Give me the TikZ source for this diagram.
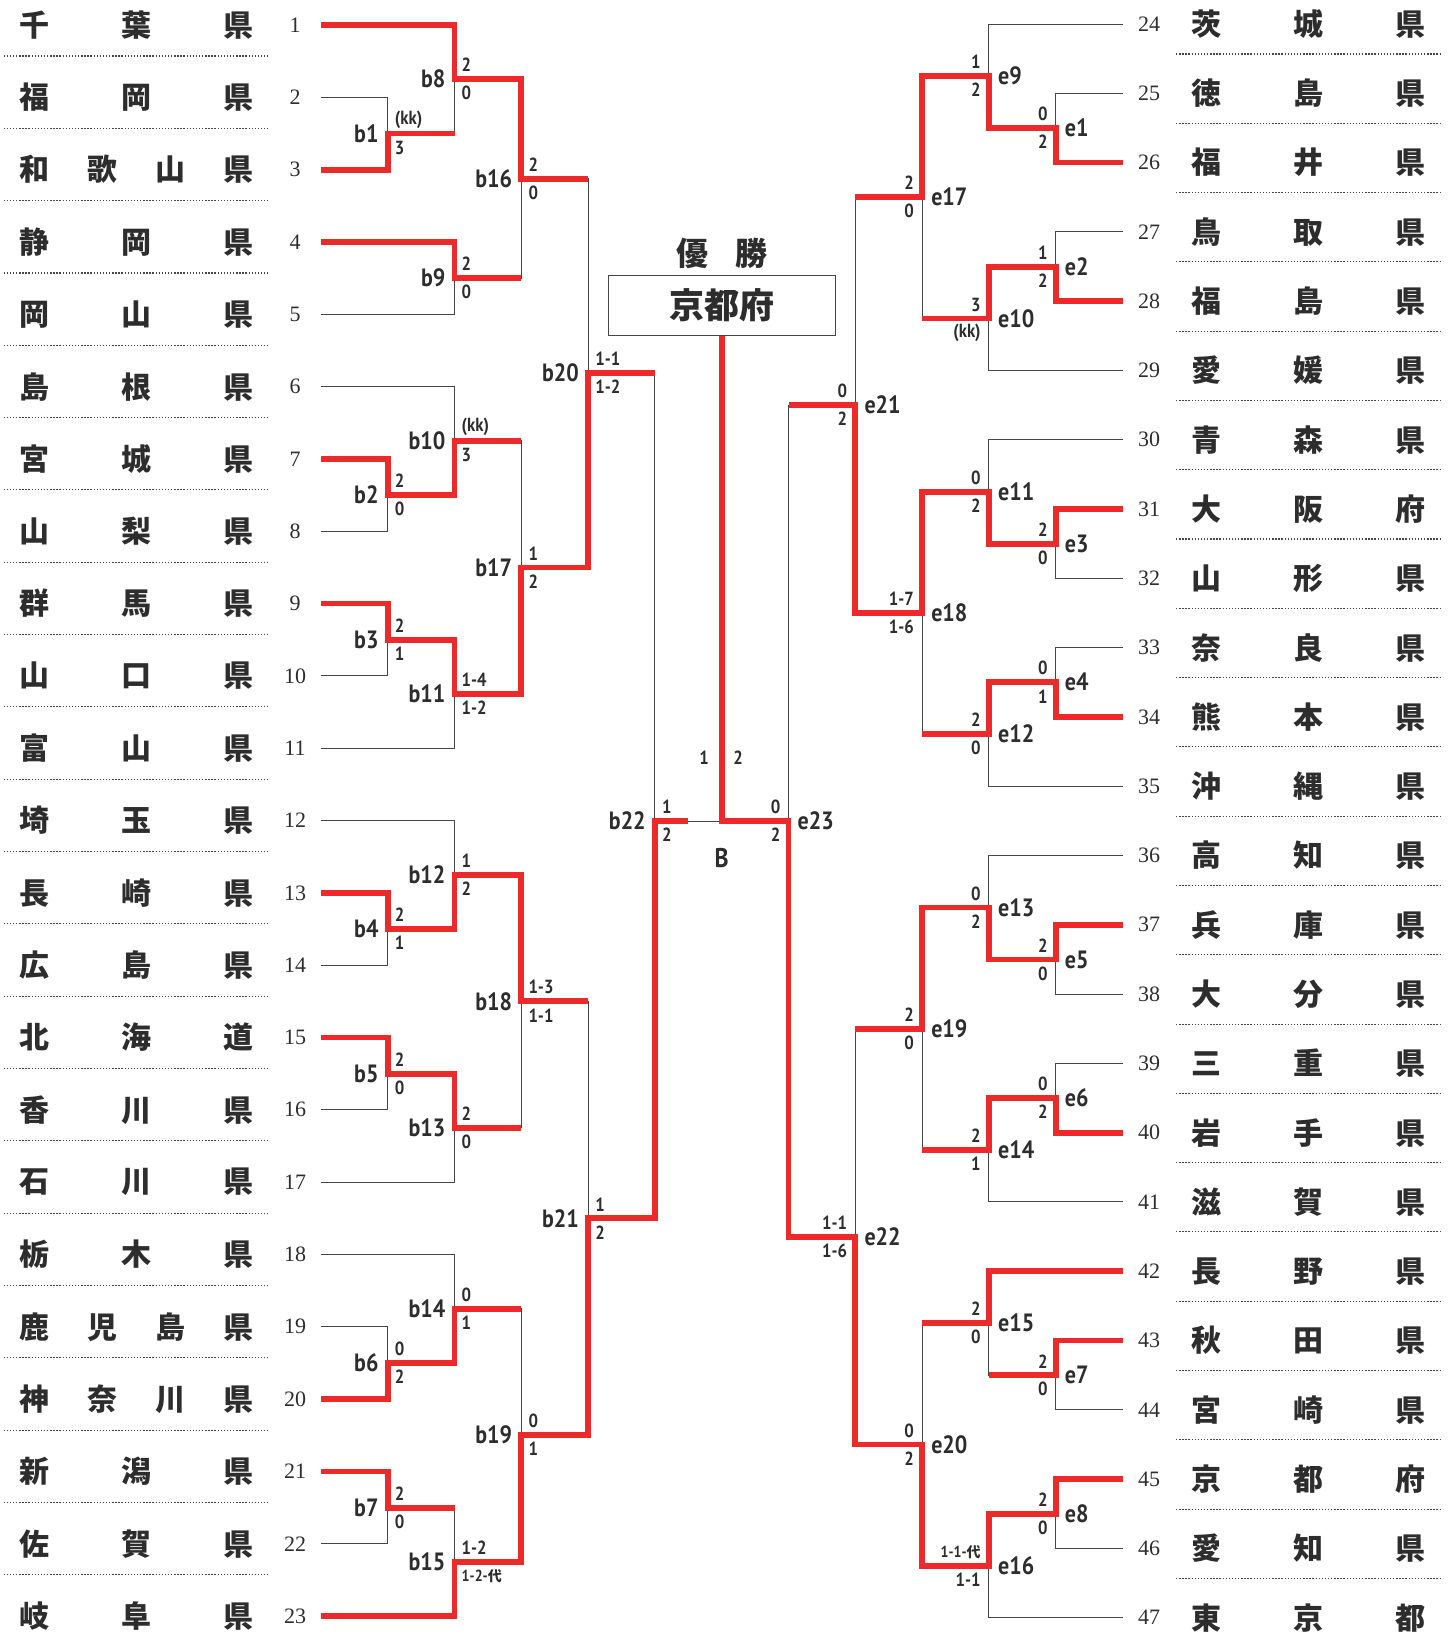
\documentclass[tikz,border=0pt]{standalone}
\usepackage{fontspec}
\setmainfont{Liberation Serif}
\newfontfamily\jpfont{Noto Sans CJK JP}
\newfontfamily\labfont{PT Sans}[FakeStretch=0.88]
\usepackage{tikz}

\definecolor{redline}{RGB}{237,41,41}
\definecolor{ink}{RGB}{45,45,45}
\definecolor{wire}{RGB}{70,70,70}

\begin{document}
\begin{tikzpicture}[x=1pt,y=-1pt,
  bracket/.style={draw=wire,line width=1pt},
  winner/.style={draw=redline,line width=5.8pt},
  sep/.style={draw=wire,line width=1.1pt,dash pattern=on 1.4pt off 1.7pt},
  pref/.style={inner sep=0pt,text=ink,font=\jpfont\bfseries\fontsize{30}{30}\selectfont},
  num/.style={inner sep=0pt,text=ink,font=\fontsize{22}{22}\selectfont},
  match/.style={inner sep=0pt,text=ink,font=\labfont\bfseries\fontsize{25}{25}\selectfont},
  score/.style={inner sep=0pt,text=ink,font=\labfont\bfseries\fontsize{19}{19}\selectfont}]
  \useasboundingbox (0,0) rectangle (1448,1638);

  \foreach \n [count=\i] in {千\hfill 葉\hfill 県,福\hfill 岡\hfill 県,和\hfill 歌\hfill 山\hfill 県,
      静\hfill 岡\hfill 県,岡\hfill 山\hfill 県,島\hfill 根\hfill 県,宮\hfill 城\hfill 県,
      山\hfill 梨\hfill 県,群\hfill 馬\hfill 県,山\hfill 口\hfill 県,富\hfill 山\hfill 県,
      埼\hfill 玉\hfill 県,長\hfill 崎\hfill 県,広\hfill 島\hfill 県,北\hfill 海\hfill 道,
      香\hfill 川\hfill 県,石\hfill 川\hfill 県,栃\hfill 木\hfill 県,鹿\hfill 児\hfill 島\hfill 県,
      神\hfill 奈\hfill 川\hfill 県,新\hfill 潟\hfill 県,佐\hfill 賀\hfill 県,岐\hfill 阜\hfill 県}
  {
    \coordinate (t\i) at (320.9,{25+(\i-1)*72.32});
    \node[pref] (n\i) at (136.3,{25+(\i-1)*72.32}) {\makebox[234pt]{\n}};
    \node[num] (k\i) at (295,{25+(\i-1)*72.32}) {\i};
  }
  \foreach \n [count=\i from 24] in {茨\hfill 城\hfill 県,徳\hfill 島\hfill 県,福\hfill 井\hfill 県,
      鳥\hfill 取\hfill 県,福\hfill 島\hfill 県,愛\hfill 媛\hfill 県,青\hfill 森\hfill 県,
      大\hfill 阪\hfill 府,山\hfill 形\hfill 県,奈\hfill 良\hfill 県,熊\hfill 本\hfill 県,
      沖\hfill 縄\hfill 県,高\hfill 知\hfill 県,兵\hfill 庫\hfill 県,大\hfill 分\hfill 県,
      三\hfill 重\hfill 県,岩\hfill 手\hfill 県,滋\hfill 賀\hfill 県,長\hfill 野\hfill 県,
      秋\hfill 田\hfill 県,宮\hfill 崎\hfill 県,京\hfill 都\hfill 府,愛\hfill 知\hfill 県,
      東\hfill 京\hfill 都}
  {
    \coordinate (t\i) at (1122.5,{24+(\i-24)*69.29});
    \node[pref] (n\i) at (1308.5,{24+(\i-24)*69.29}) {\makebox[234pt]{\n}};
    \node[num] (k\i) at (1149,{24+(\i-24)*69.29}) {\i};
  }
  \foreach \i in {1,...,22}
    \draw[sep] (3.6,{56+(\i-1)*72.32}) -- (268,{56+(\i-1)*72.32});
  \foreach \i in {24,...,46}
    \draw[sep] (1176,{54+(\i-24)*69.29}) -- (1440,{54+(\i-24)*69.29});

  \coordinate (b1) at (387.7,133.5);
  \coordinate (b2) at (387.7,495.1);
  \coordinate (b3) at (387.7,639.8);
  \coordinate (b4) at (387.7,929.0);
  \coordinate (b5) at (387.7,1073.7);
  \coordinate (b6) at (387.7,1362.9);
  \coordinate (b7) at (387.7,1507.6);
  \coordinate (b8) at (454.5,79.2);
  \coordinate (b9) at (454.5,278.2);
  \coordinate (b10) at (454.5,440.8);
  \coordinate (b11) at (454.5,694.0);
  \coordinate (b12) at (454.5,874.8);
  \coordinate (b13) at (454.5,1127.9);
  \coordinate (b14) at (454.5,1308.7);
  \coordinate (b15) at (454.5,1561.8);
  \coordinate (b16) at (521.3,178.7);
  \coordinate (b17) at (521.3,567.4);
  \coordinate (b18) at (521.3,1001.3);
  \coordinate (b19) at (521.3,1435.2);
  \coordinate (b20) at (588.1,373.1);
  \coordinate (b21) at (588.1,1218.3);
  \coordinate (b22) at (654.9,821);
  \coordinate (b22s) at (688,821);
  \coordinate (fin) at (721.7,821);

  \coordinate (e1) at (1055.7,128.0);
  \coordinate (e2) at (1055.7,266.6);
  \coordinate (e3) at (1055.7,543.7);
  \coordinate (e4) at (1055.7,682.3);
  \coordinate (e5) at (1055.7,959.5);
  \coordinate (e6) at (1055.7,1098.0);
  \coordinate (e7) at (1055.7,1375.2);
  \coordinate (e8) at (1055.7,1513.8);
  \coordinate (e9) at (988.9,76.0);
  \coordinate (e10) at (988.9,318.5);
  \coordinate (e11) at (988.9,491.7);
  \coordinate (e12) at (988.9,734.2);
  \coordinate (e13) at (988.9,907.5);
  \coordinate (e14) at (988.9,1150.0);
  \coordinate (e15) at (988.9,1323.2);
  \coordinate (e16) at (988.9,1565.7);
  \coordinate (e17) at (922.1,197.2);
  \coordinate (e18) at (922.1,613.0);
  \coordinate (e19) at (922.1,1028.8);
  \coordinate (e20) at (922.1,1444.5);
  \coordinate (e21) at (855.3,405.1);
  \coordinate (e22) at (855.3,1236.6);
  \coordinate (e23) at (788.5,821);

  \def\leftbouts{b1/t2/t3/t3/b8/(kk)/3, b2/t7/t8/t7/b10/2/0, b3/t9/t10/t9/b11/2/1,
    b4/t13/t14/t13/b12/2/1, b5/t15/t16/t15/b13/2/0, b6/t19/t20/t20/b14/0/2,
    b7/t21/t22/t21/b15/2/0, b8/t1/b1/t1/b16/2/0, b9/t4/t5/t4/b16/2/0,
    b10/t6/b2/b2/b17/(kk)/3, b11/b3/t11/b3/b17/1-4/1-2, b12/t12/b4/b4/b18/1/2,
    b13/b5/t17/b5/b18/2/0, b14/t18/b6/b6/b19/0/1,
    b15/b7/t23/t23/b19/1-2/{\fontsize{16}{16}\selectfont 1-2-{\jpfont\fontsize{14}{14}\selectfont 代}},
    b16/b8/b9/b8/b20/2/0, b17/b10/b11/b11/b20/1/2, b18/b12/b13/b12/b21/1-3/1-1,
    b19/b14/b15/b15/b21/0/1, b20/b16/b17/b17/b22/1-1/1-2, b21/b18/b19/b19/b22/1/2}
  \def\rightbouts{e1/t25/t26/t26/e9/0/2, e2/t27/t28/t28/e10/1/2, e3/t31/t32/t31/e11/2/0,
    e4/t33/t34/t34/e12/0/1, e5/t37/t38/t37/e13/2/0, e6/t39/t40/t40/e14/0/2,
    e7/t43/t44/t43/e15/2/0, e8/t45/t46/t45/e16/2/0, e9/t24/e1/e1/e17/1/2,
    e10/e2/t29/e2/e17/3/(kk), e11/t30/e3/e3/e18/0/2, e12/e4/t35/e4/e18/2/0,
    e13/t36/e5/e5/e19/0/2, e14/e6/t41/e6/e19/2/1, e15/t42/e7/t42/e20/2/0,
    e16/e8/t47/e8/e20/{\fontsize{16}{16}\selectfont 1-1-{\jpfont\fontsize{14}{14}\selectfont 代}}/1-1,
    e17/e9/e10/e9/e21/2/0, e18/e11/e12/e11/e21/1-7/1-6, e19/e13/e14/e13/e22/2/0,
    e20/e15/e16/e16/e22/0/2, e21/e17/e18/e18/e23/0/2, e22/e19/e20/e20/e23/1-1/1-6}

  \foreach \m/\up/\dn/\win/\nx/\hi/\lo in \leftbouts
    \draw[bracket] (\up) -| (\m) |- (\dn);
  \foreach \m/\up/\dn/\win/\nx/\hi/\lo in \rightbouts
    \draw[bracket] (\up) -| (\m) |- (\dn);
  \draw[bracket] (b20) -| (b22) |- (b21);
  \draw[bracket] (e21) -| (e23) |- (e22);
  \draw[bracket] (b22s) -- (fin);

  \foreach \m/\up/\dn/\win/\nx/\hi/\lo in \leftbouts {
    \draw[winner] (\win) -| (\m) -- (\m -| \nx);
    \node[match,anchor=east] (\m-l) at ([xshift=-9pt]\m) {\m};
    \node[score,anchor=west] (\m-h) at ([shift={(7pt,14pt)}]\m) {\hi};
    \node[score,anchor=west] (\m-d) at ([shift={(7pt,-14pt)}]\m) {\lo};
  }
  \foreach \m/\up/\dn/\win/\nx/\hi/\lo in \rightbouts {
    \draw[winner] (\win) -| (\m) -- (\m -| \nx);
    \node[match,anchor=west] (\m-l) at ([xshift=9pt]\m) {\m};
    \node[score,anchor=east] (\m-h) at ([shift={(-8pt,14pt)}]\m) {\hi};
    \node[score,anchor=east] (\m-d) at ([shift={(-8pt,-14pt)}]\m) {\lo};
  }

  \node[draw=wire,line width=1.3pt,minimum width=227pt,minimum height=60pt,inner sep=0pt,
    text=ink,font=\jpfont\bfseries\fontsize{35}{35}\selectfont] (box) at (721.7,305.6) {京都府};
  \node[pref,font=\jpfont\bfseries\fontsize{32}{32}\selectfont] (champ) at (721.7,253)
    {\makebox[91pt]{優\hfill 勝}};

  \draw[winner] (b21) -| (b22) -- (b22s);
  \draw[winner] (e22) -| (e23) -- (fin) -- (box.south);

  \node[match,anchor=east] (b22-l) at ([xshift=-9pt]b22) {b22};
  \node[score,anchor=west] (b22-h) at ([shift={(7pt,14pt)}]b22) {1};
  \node[score,anchor=west] (b22-d) at ([shift={(7pt,-14pt)}]b22) {2};
  \node[match,anchor=west] (e23-l) at ([xshift=9pt]e23) {e23};
  \node[score,anchor=east] (e23-h) at ([shift={(-8pt,14pt)}]e23) {0};
  \node[score,anchor=east] (e23-d) at ([shift={(-8pt,-14pt)}]e23) {2};
  \node[score] (f1) at (704,758) {1};
  \node[score] (f2) at (738,758) {2};
  \node[match,font=\labfont\bfseries\fontsize{27}{27}\selectfont] (blk) at (721.7,858) {B};
\end{tikzpicture}
\end{document}
